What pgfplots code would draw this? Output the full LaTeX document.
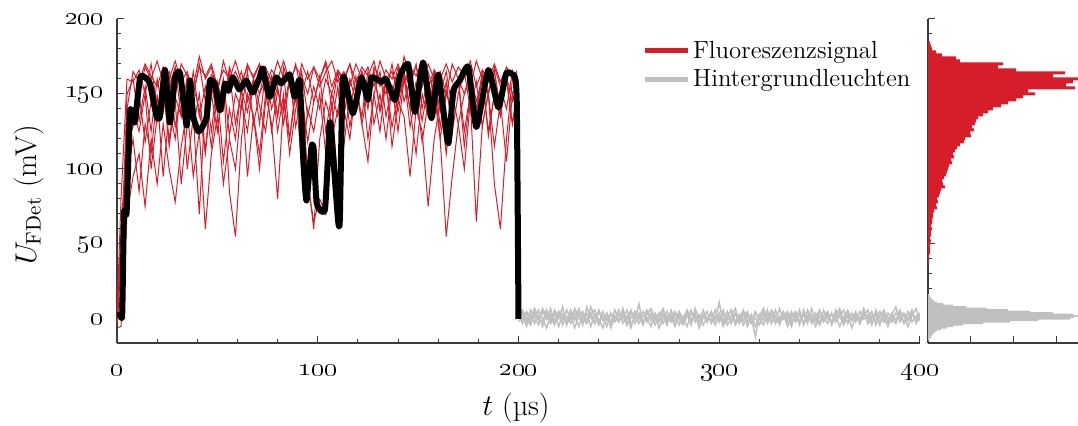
\documentclass[border=0pt]{standalone}
\usepackage{fix-cm}
\usepackage{pgfplots}
\usepackage{pgfplotstable}
\pgfplotsset{compat=1.18}
\definecolor{myred}{RGB}{213,30,42}
\definecolor{mygray}{RGB}{192,192,192}
\definecolor{axgray}{RGB}{60,60,60}

\pgfplotstableread{
t a b c d e f g h
0 2 -3 5 0 -6 3 1 -2
2 20 60 10 35 -5 80 40 15
5 140 120 95 150 70 160 130 110
8 165 128 120 160 95 158 140 130
11 158 150 85 132 110 166 125 150
14 170 118 130 155 75 150 150 168
17 162 145 110 125 120 170 100 160
20 155 132 150 160 90 140 135 172
23 168 155 95 138 130 162 155 158
26 160 115 140 162 100 155 120 165
29 172 148 120 128 78 168 145 150
32 158 135 155 150 115 135 90 170
35 165 162 100 140 140 160 130 162
38 150 128 135 165 95 150 155 155
41 168 150 70 135 125 170 140 175
44 162 112 145 155 60 145 110 160
47 170 155 115 125 110 163 150 168
50 155 138 150 158 135 158 125 150
53 166 160 105 140 90 140 160 172
56 160 122 140 165 120 168 85 158
59 172 150 120 130 100 155 55 165
62 158 140 155 152 145 165 120 155
65 168 165 95 138 125 145 150 170
68 162 130 135 160 160 160 135 160
71 170 150 110 142 130 170 100 150
74 155 160 150 125 165 150 145 168
77 166 125 130 158 140 162 160 158
80 160 152 80 135 155 135 125 172
83 172 138 145 165 130 168 150 160
86 158 162 120 120 160 155 110 165
89 168 128 155 150 145 170 140 150
92 162 150 100 132 165 150 155 170
95 150 118 140 90 135 165 95 160
98 168 145 125 65 155 145 60 168
101 160 162 150 80 140 160 120 155
104 172 125 110 70 160 170 145 165
107 155 150 145 120 150 140 130 172
110 166 135 90 140 165 165 155 158
113 160 160 140 158 135 158 115 165
116 170 128 120 138 160 170 150 155
119 158 152 155 162 145 150 140 170
122 168 135 130 130 165 165 160 160
125 162 165 105 152 150 140 120 168
128 172 130 150 165 165 168 150 155
131 155 150 125 138 140 160 165 172
134 166 120 160 158 160 150 135 160
137 160 155 115 128 150 170 155 165
140 170 138 145 150 168 145 125 150
143 158 162 135 165 145 163 160 175
146 168 128 95 140 160 155 140 162
149 162 150 140 158 150 170 110 168
152 172 118 125 132 165 140 150 155
155 155 145 75 155 140 165 135 170
158 166 165 120 162 160 150 160 160
161 160 128 145 138 150 120 120 165
164 170 152 110 158 165 55 150 150
167 158 135 150 125 140 95 140 170
170 168 160 130 150 160 130 160 160
173 162 125 100 165 150 150 115 168
176 172 150 145 140 165 160 150 155
179 155 138 65 158 145 140 140 172
182 166 162 130 128 160 165 160 160
185 160 122 150 152 150 150 125 150
188 170 150 115 165 165 168 150 90
191 158 135 145 138 140 155 140 60
194 168 160 105 158 160 140 160 120
197 162 130 150 145 150 165 130 160
199 160 150 140 155 155 150 145 165
200 0 0 0 0 0 0 0 0
}\redtable

\pgfplotstableread{
t p q r s v
200 0 3 -2 1 2
202 4 -3 2 6 -1
204 -2 5 -5 0 4
206 6 0 3 -4 -3
208 1 7 -3 5 3
210 -4 2 6 -1 0
212 5 -5 0 7 -2
214 0 4 -6 2 6
216 7 -2 3 -3 1
218 -3 6 -1 4 -4
220 3 0 5 -5 5
222 -1 8 -4 3 2
224 6 -4 2 -2 -3
226 0 3 -3 6 4
228 4 -6 7 0 -1
230 -5 2 1 4 7
232 3 5 -2 -4 0
234 -2 -1 4 8 -3
236 8 4 -5 1 3
238 1 -3 3 -3 6
240 -4 6 0 5 -2
242 5 0 -6 -1 2
244 -1 3 4 3 -5
246 4 -5 -2 -6 4
248 0 2 6 2 -2
250 6 -2 -1 -2 3
252 -3 7 3 4 0
254 2 -4 -4 0 6
256 -6 1 5 6 -3
258 3 5 0 -3 1
260 0 -3 10 2 4
262 5 2 -3 -4 -2
264 -2 6 1 5 3
266 4 -1 -5 0 7
268 -4 3 4 3 -1
270 2 -6 -2 -2 4
272 7 0 3 6 -3
274 -1 5 -4 -3 2
276 3 -2 6 1 -1
278 -3 4 0 -5 5
280 5 -4 2 4 0
282 0 1 -3 -1 -4
284 -5 6 5 3 2
286 4 -1 -1 -4 6
288 1 3 4 7 -2
290 -2 -5 -6 0 3
292 6 2 1 3 -4
294 0 -2 5 -2 1
296 3 4 -3 5 -1
298 -4 0 2 -1 6
300 2 11 -1 4 -2
302 -1 -3 6 -5 3
304 5 2 -4 1 -1
306 -3 6 0 6 2
308 4 -4 3 -2 7
310 0 1 -2 3 -3
312 6 -1 5 -4 2
314 -2 4 -5 2 5
316 3 -2 1 -1 -3
318 -5 5 -12 4 1
320 2 0 3 0 -4
322 7 -4 -1 5 3
324 -1 3 6 -3 0
326 4 -2 -3 2 6
328 -3 6 2 -2 2
330 1 -1 -4 7 -3
332 5 3 4 0 1
334 -2 -5 0 3 5
336 3 1 5 -5 -2
338 0 5 -2 4 3
340 6 -2 3 -1 -4
342 -4 4 -3 2 6
344 2 -3 6 5 0
346 -1 7 0 -3 3
348 4 0 -5 1 -2
350 -3 -4 2 6 5
352 6 2 -1 -2 1
354 0 5 4 3 -3
356 3 -2 -3 -4 4
358 -2 3 6 2 -1
360 5 -5 1 7 2
362 -4 1 -2 -1 6
364 2 6 3 4 -3
366 -1 -1 -6 0 4
368 4 3 2 5 -2
370 0 -3 -1 -3 5
372 7 4 5 2 0
374 -3 0 -3 6 3
376 2 5 1 -2 -4
378 -1 -4 4 3 6
380 5 2 -2 -4 1
382 0 6 3 5 -2
384 -4 -2 -5 1 4
386 3 4 2 -2 0
388 8 -1 -1 4 -3
390 -2 3 6 0 5
392 4 -3 -3 3 2
394 0 5 1 -5 -1
396 6 -2 4 2 3
398 -3 2 -2 7 0
400 1 4 3 -1 4
}\graytable

\pgfplotstableread{
u c
184 2
182 3
180 4
178 8
176 14
174 28
172 32
170 75
168 70
166 88
164 137
162 125
160 150
158 145
156 138
154 147
152 100
150 107
148 95
146 88
144 80
142 73
140 65
138 60
136 55
134 50
132 48
130 47
128 44
126 46
124 42
122 43
120 37
118 36
116 32
114 29
112 27
110 25
108 26
106 23
104 24
102 21
100 20
98 19
96 18
94 16
92 14
90 15
88 17
86 13
84 12
82 11
80 9
78 10
76 8
74 9
72 6
70 5
68 5
66 4
64 4
62 3
60 4
58 3
56 3
54 2
52 3
50 2
48 2
46 2
44 2
42 1
40 1
38 1
}\redhist

\pgfplotstableread{
u c
16 1
15 2
14 3
13 4
12 6
11 9
10 15
9 25
8 38
7 59
6 80
5 102
4 125
3 145
2 150
1 146
0 142
-1 110
-2 82
-3 55
-4 35
-5 25
-6 19
-7 13
-8 9
-9 7
-10 5
-11 4
-12 3
-13 2
-14 1
}\grayhist

\pgfplotsset{
  common/.style={
    scale only axis, height=162pt, ymin=-16, ymax=200,
    axis lines*=left, axis line style={-, line width=0.6pt, color=axgray},
    tick align=inside, tick style={color=axgray, line width=0.5pt},
    major tick length=3.5pt, minor tick length=2pt,
    ytick={0,50,100,150,200}, minor y tick num=4,
  }
}

\begin{document}
\begin{tikzpicture}
\path[use as bounding box] (-58.5pt,-41.5pt) rectangle (480.5pt,171.5pt);
\begin{axis}[common, name=main, at={(0pt,0pt)}, anchor=south west,
  width=401.5pt, xmin=0, xmax=400,
  xtick={0,100,200,300,400}, minor x tick num=4,
  xticklabels={\oldstylenums{0},\oldstylenums{100},\oldstylenums{200},\oldstylenums{300},\oldstylenums{400}},
  yticklabels={\oldstylenums{0},\oldstylenums{50},\oldstylenums{100},\oldstylenums{150},\oldstylenums{200}},
  xticklabel style={font=\fontsize{13}{15}\selectfont, anchor=base, yshift=-16.5pt},
  yticklabel style={font=\fontsize{13}{15}\selectfont, xshift=-3.3pt},
  xlabel={$t$ (µs)}, ylabel={$U_{\mathrm{FDet}}$ (mV)},
  label style={font=\fontsize{15}{18}\selectfont},
  xlabel style={at={(axis description cs:0.497,-0.2)}, anchor=center},
  ylabel style={at={(axis description cs:-0.110,0.457)}, anchor=center},
  legend cell align=left,
  legend image code/.code={\draw[#1] (0pt,0pt) -- (21.5pt,0pt);},
  legend style={draw=none, fill=none, font=\fontsize{12.4}{15}\selectfont,
    at={(axis description cs:0.646,0.858)}, anchor=west, row sep=1pt,
    nodes={inner sep=1.5pt}},
]
\addlegendimage{myred, line width=2.5pt}
\addlegendentry{Fluoreszenzsignal}
\addlegendimage{mygray, line width=2.5pt}
\addlegendentry{Hintergrundleuchten}
\foreach \col in {a,b,c,d,e,f,g,h}{
  \addplot[forget plot, myred, line width=0.5pt] table[x=t, y=\col] {\redtable};
}
\foreach \col in {p,q,r,s,v}{
  \addplot[forget plot, mygray, line width=0.75pt] table[x=t, y=\col] {\graytable};
}
\addplot[forget plot, black, line width=3pt, line join=round, smooth, tension=0.3] coordinates {
(0,2) (1.5,3) (2.6,3) (3.5,71) (4.8,71) (6.5,139) (8.8,131) (11.5,161) (14,161)
(16.4,157) (19.7,135) (21.4,135) (23.9,166) (26.4,131) (28.9,161) (31.4,164)
(34.7,129) (36.4,159) (38,135) (40.5,125) (42.5,128) (44.7,135) (46.3,159)
(48.8,156) (51.3,139) (53.8,157) (55.5,152) (57.7,161) (61,153) (64.3,159)
(67.6,151) (71,161) (72.6,167) (76,148) (79.3,161) (81.8,157) (86,163)
(88.5,148) (91,159) (92.8,106) (94.4,79) (96.9,115) (98,113) (99.5,77)
(103.6,73) (106,131) (107.6,110) (110.1,66) (111,66) (112.6,161) (117.5,137)
(121.7,161) (125,146) (126.7,161) (131.7,158) (134,160) (138.4,146) (140.9,162)
(145,170) (148.4,138) (152.5,171) (156.7,134) (160,163) (165,117) (167.5,152)
(170.8,159) (175,168) (179,128) (185,166) (190,141) (194,164) (198.3,161)
(199.2,140) (200,0)
};
\end{axis}
\begin{axis}[common, at={(405.5pt,0pt)}, anchor=south west,
  width=75pt, xmin=0, xmax=150,
  xtick={0,42.86,85.71,128.57}, xticklabels={}, yticklabels={},
]
\addplot[xbar, bar width=2, bar shift=0pt, fill=myred, draw=none] table[x=c, y=u] {\redhist};
\addplot[xbar, bar width=1, bar shift=0pt, fill=mygray, draw=none] table[x=c, y=u] {\grayhist};
\end{axis}
\end{tikzpicture}
\end{document}
